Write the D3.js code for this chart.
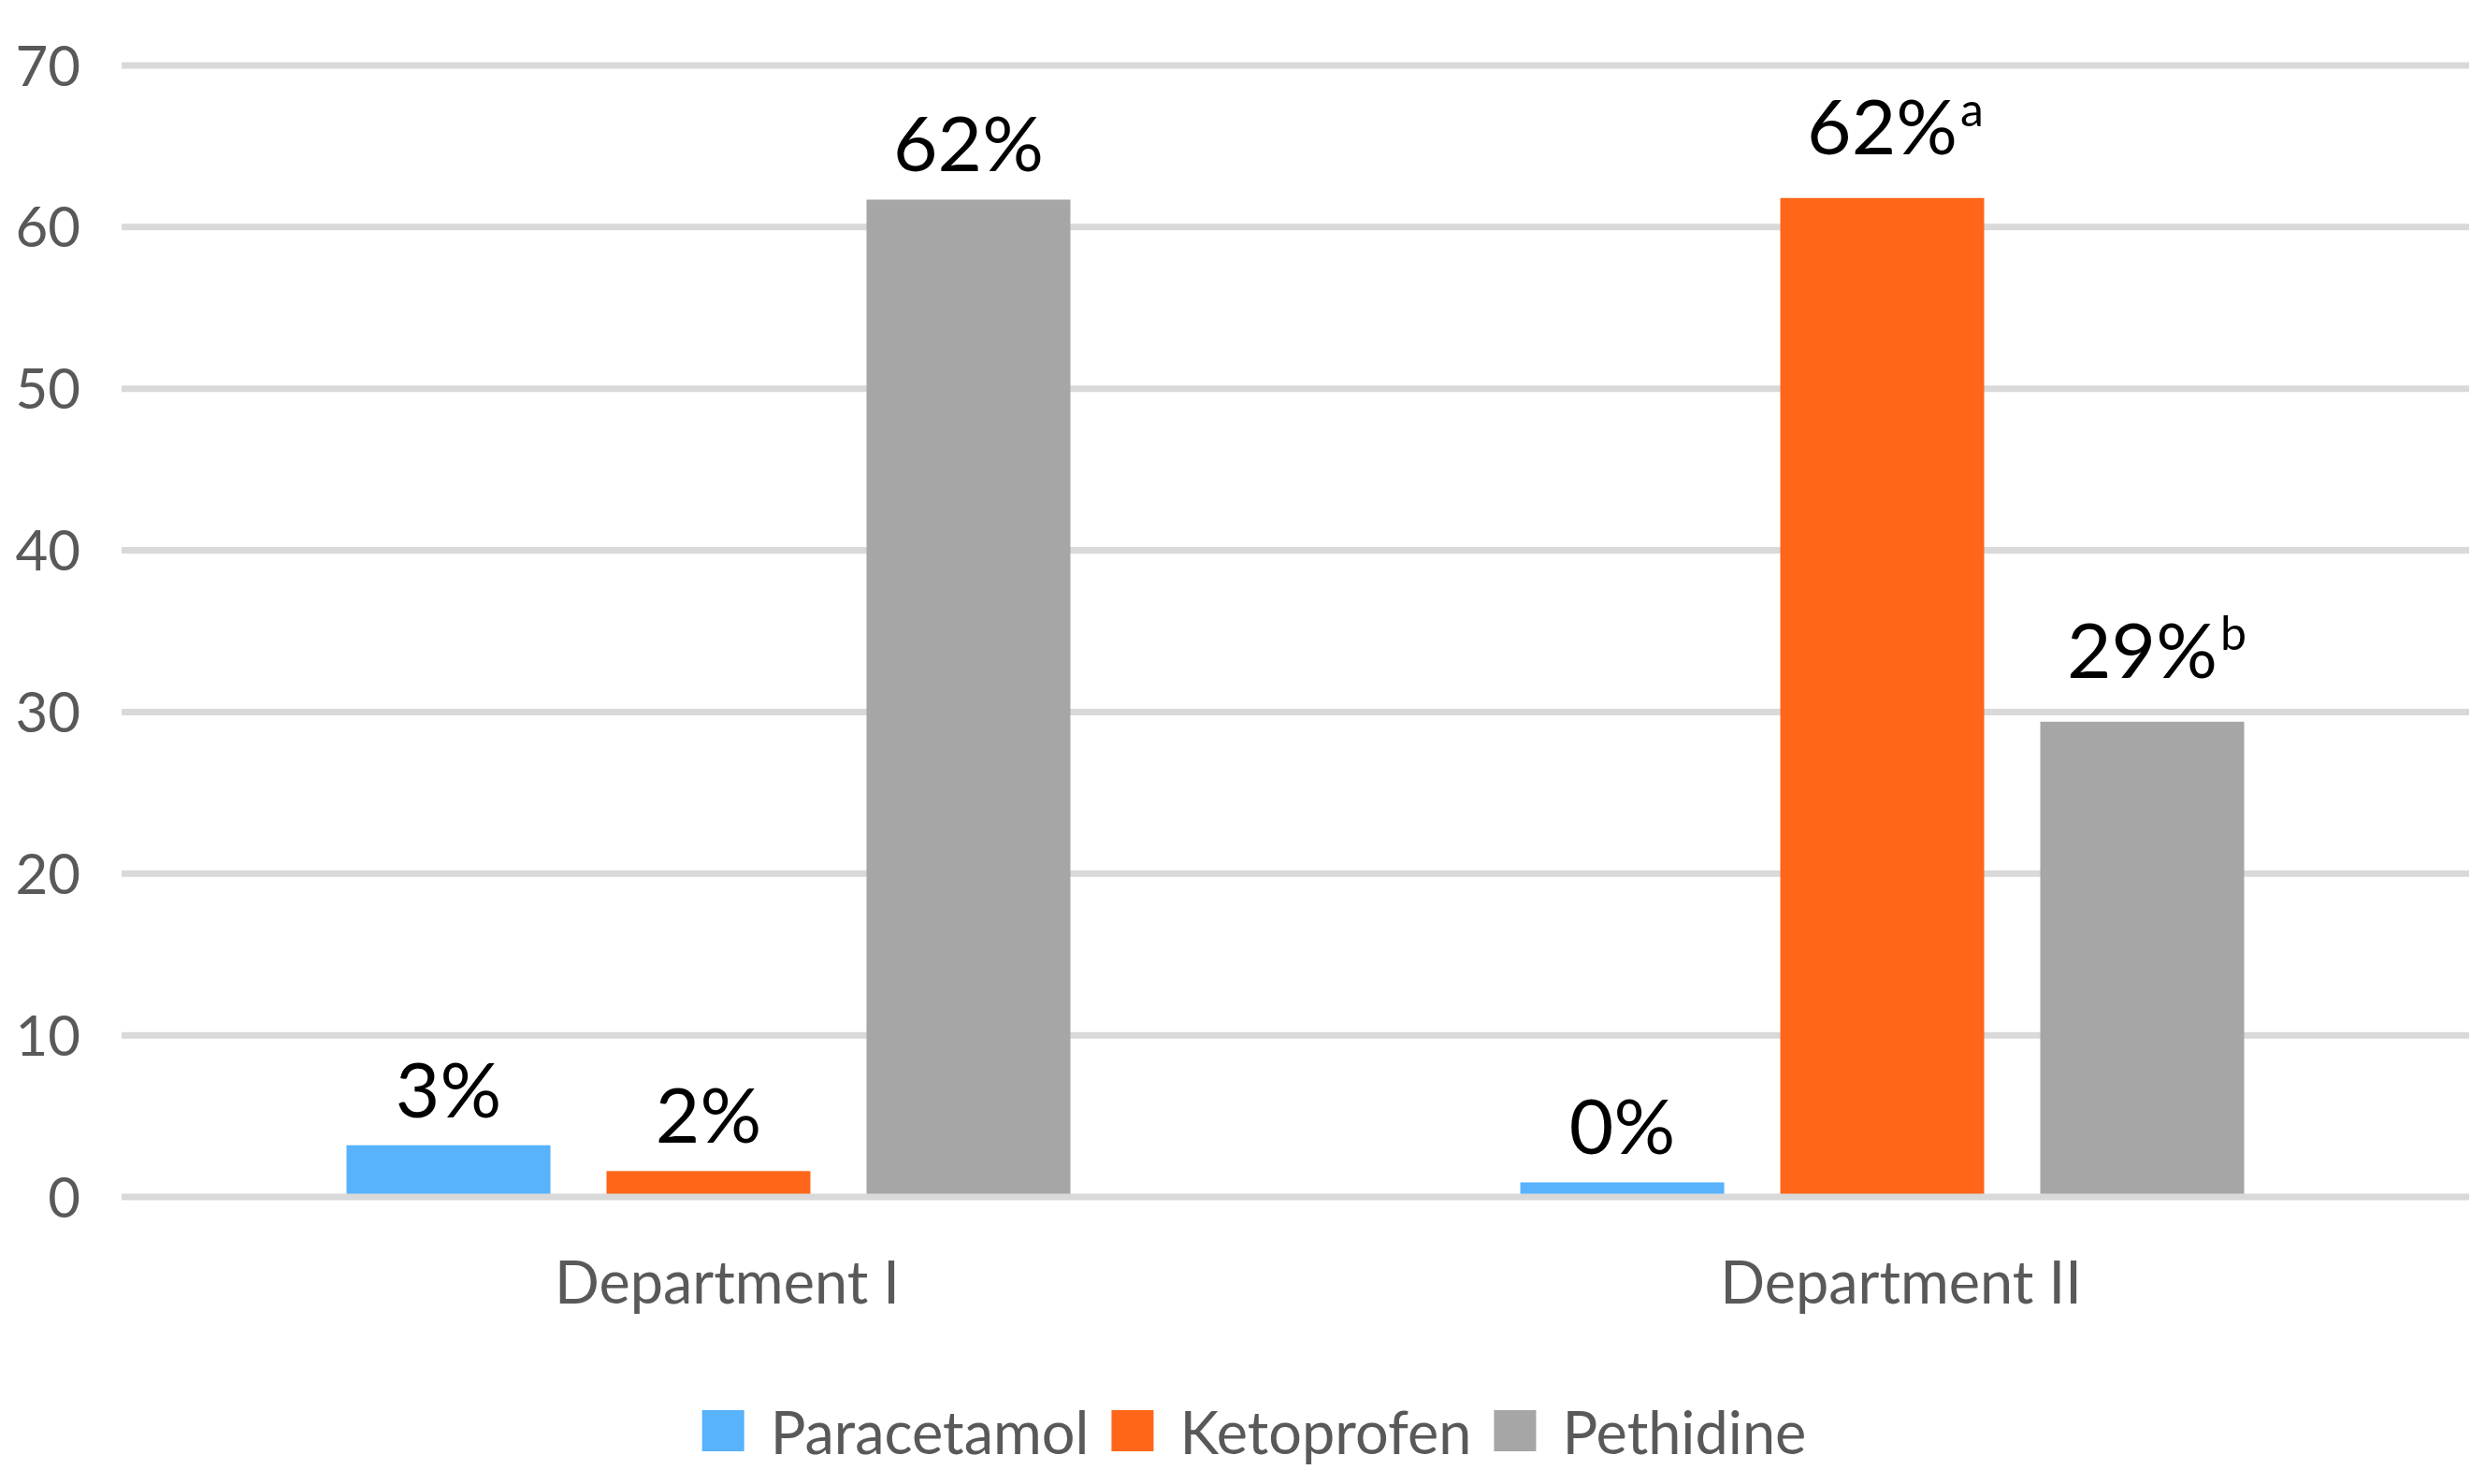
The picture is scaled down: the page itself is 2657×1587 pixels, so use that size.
<!DOCTYPE html>
<html><head><meta charset="utf-8">
<script src="https://cdn.jsdelivr.net/npm/d3@7"></script>
<style>body{margin:0;background:#fff}svg{display:block}</style>
</head><body>
<svg id="c" width="2657" height="1587"></svg>
<script>
const departments = ["Department I", "Department II"];
const seriesNames = ["Paracetamol", "Ketoprofen", "Pethidine"];
const paracetamol = [3.2, 0.9];
const ketoprofen = [1.6, 61.8];
const pethidine = [61.7, 29.4];
const labelMain = [["3%", "0%"], ["2%", "62%"], ["62%", "29%"]];
const labelSup = [["", ""], ["", "a"], ["", "b"]];
const yTicks = [0, 10, 20, 30, 40, 50, 60, 70];
const colors = ["#58B2FC", "#FF661A", "#A6A6A6"];

const values = [paracetamol, ketoprofen, pethidine];
const FONT = "Lato, 'Open Sans', sans-serif";
const svg = d3.select("#c");
svg.append("rect").attr("width", 2657).attr("height", 1587).attr("fill", "#fff");

const y = d3.scaleLinear().domain([0, 70]).range([1280, 70]);
const x0 = d3.scaleBand().domain(departments).range([130, 2640]).paddingInner(0.3833).paddingOuter(0.19165);
const x1 = d3.scaleBand().domain(seriesNames).range([0, x0.bandwidth()]).paddingInner(0.2158).paddingOuter(0);

// gridlines (behind bars)
svg.append("g").selectAll("line").data(yTicks.filter(t => t !== 0)).join("line")
  .attr("x1", 130).attr("x2", 2640).attr("y1", d => y(d)).attr("y2", d => y(d))
  .attr("stroke", "#D9D9D9").attr("stroke-width", 7);

// y tick labels
svg.append("g").selectAll("text").data(yTicks).join("text")
  .attr("x", 86).attr("y", d => y(d)).attr("dy", "0.36em")
  .attr("text-anchor", "end").attr("font-family", FONT).attr("font-size", 60)
  .attr("fill", "#595959").text(d => d);

// bars
const bars = [];
seriesNames.forEach((s, si) => departments.forEach((dep, di) => bars.push({s, si, dep, di, v: values[si][di]})));
svg.append("g").selectAll("rect").data(bars).join("rect")
  .attr("x", d => x0(d.dep) + x1(d.s)).attr("width", x1.bandwidth())
  .attr("y", d => y(d.v)).attr("height", d => y(0) - y(d.v))
  .attr("fill", d => colors[d.si]);

// zero line on top
svg.append("line").attr("x1", 130).attr("x2", 2640).attr("y1", y(0)).attr("y2", y(0))
  .attr("stroke", "#D9D9D9").attr("stroke-width", 7);

// data labels
const lg = svg.append("g");
bars.forEach(d => {
  const sup = labelSup[d.si][d.di];
  const cx = x0(d.dep) + x1(d.s) + x1.bandwidth() / 2;
  const by = y(d.v) - 30 - (sup ? 17 : 0);
  const t = lg.append("text").attr("x", cx).attr("y", by).attr("text-anchor", "middle")
    .attr("font-family", FONT).attr("font-size", 82).attr("fill", "#000").text(labelMain[d.si][d.di]);
  if (sup) {
    const w = t.node().getComputedTextLength();
    lg.append("text").attr("x", cx + w / 2 + 3).attr("y", by - 30)
      .attr("font-family", FONT).attr("font-size", 50).attr("fill", "#000").text(sup);
  }
});

// category labels
svg.append("g").selectAll("text").data(departments).join("text")
  .attr("x", d => x0(d) + x0.bandwidth() / 2 + 20).attr("y", 1394)
  .attr("text-anchor", "middle").attr("font-family", FONT).attr("font-size", 63)
  .attr("fill", "#595959").text(d => d);

// legend
const leg = svg.append("g");
let lx = 0;
seriesNames.forEach((s, i) => {
  leg.append("rect").attr("x", lx).attr("y", 1508).attr("width", 45).attr("height", 44).attr("fill", colors[i]);
  const t = leg.append("text").attr("x", lx + 73).attr("y", 1555).attr("font-family", FONT)
    .attr("font-size", 63).attr("fill", "#595959").text(s);
  lx += 73 + t.node().getComputedTextLength() + 24;
});
const legW = lx - 24;
leg.attr("transform", `translate(${1341 - legW / 2},0)`);
</script>
</body></html>
